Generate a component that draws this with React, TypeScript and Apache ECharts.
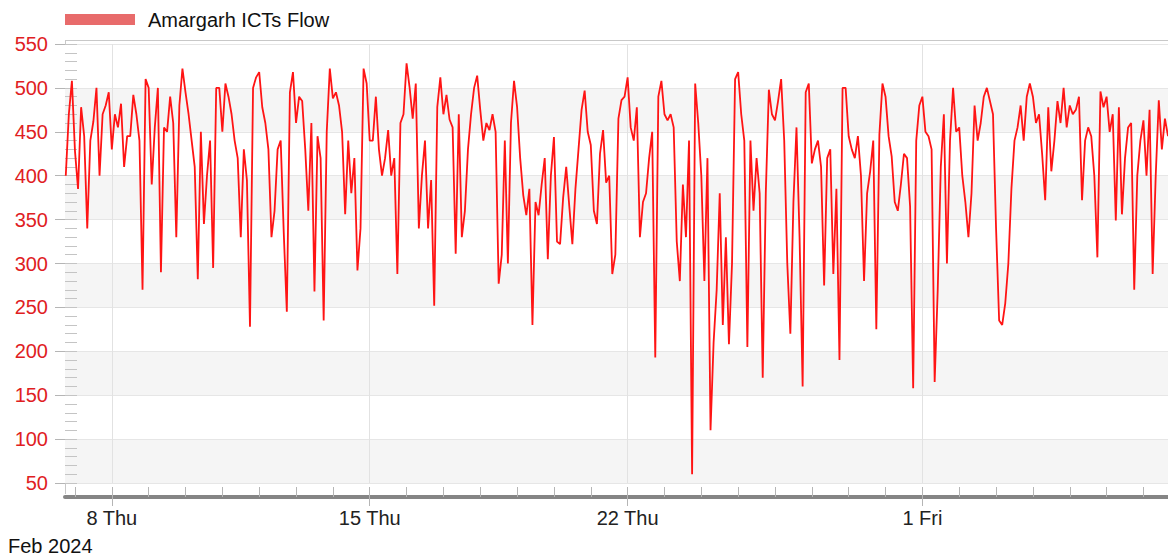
import React, { useEffect, useRef } from "react";
import * as echarts from "echarts";

const seriesName = "Amargarh ICTs Flow";
const periodLabel = "Feb 2024";

// Flow readings, every 2 hours from 6 Feb 2024 18:00
const flowPart1 = [
  400, 470, 508, 428, 385, 478, 445, 340, 440, 462,
  500, 400, 470, 480, 495, 430, 470, 455, 482, 410,
  445, 445, 492, 470, 440, 270, 510, 500, 390, 455,
  500, 290, 455, 450, 490, 460, 330, 480, 522, 495,
  470, 440, 410, 282, 450, 345, 400, 440, 295, 500,
  500, 450, 505, 490, 470, 440, 420, 330, 430, 395,
  228,
];
const flowPart2 = [
  500, 512, 518, 478, 460, 430, 330, 360, 430, 440,
  335, 245, 495, 518, 460, 490, 485, 430, 360, 460,
  268, 445, 420, 235, 450, 522, 488, 495, 480, 450,
  356, 440, 380, 420, 292, 340, 522, 505, 440, 440,
  490, 430, 400, 420, 452, 400, 420, 288, 460, 470,
  528, 500, 465, 505, 340, 400, 440, 340, 395, 252,
];
const flowPart3 = [
  478, 512, 470, 492, 464, 455, 311, 470, 330, 360,
  430, 470, 500, 514, 475, 440, 460, 452, 470, 450,
  277, 310, 440, 300, 460, 508, 478, 420, 378, 355,
  385, 230, 370, 355, 390, 420, 305, 400, 444, 325,
  322, 375, 410, 365, 322, 385, 430, 475, 497, 450,
  435, 360, 345, 425, 452, 392, 400, 288, 310, 465,
];
const flowPart4 = [
  486, 490, 512, 455, 440, 478, 330, 370, 380, 420,
  450, 193, 490, 508, 470, 463, 470, 455, 325, 280,
  390, 330, 440, 60, 505, 460, 400, 280, 420, 110,
  210, 270, 380, 230, 330, 208, 300, 510, 518, 470,
  440, 205, 440, 360, 420, 380, 170, 380, 498, 470,
  463, 485, 510, 440, 300, 220, 370, 455, 330, 160,
];
const flowPart5 = [
  495, 505, 414, 430, 440, 410, 275, 420, 430, 288,
  385, 190, 500, 500, 445, 430, 420, 445, 400, 280,
  380, 405, 440, 225, 447, 505, 490, 445, 422, 370,
  360, 390, 425, 420, 365, 158, 440, 480, 490, 450,
  445, 430, 165, 270, 410, 470, 300, 440, 500, 450,
  455, 400, 370, 330, 380, 480, 440, 460, 490, 500,
  485,
];
const flowPart6 = [
  470, 340, 235, 230, 255, 300, 385, 440, 455, 480,
  440, 490, 505, 490, 460, 470, 425, 372, 478, 405,
  440, 485, 460, 500, 455, 480, 470, 475, 490, 372,
  440, 455, 445, 400, 307, 496, 478, 490, 450, 470,
  349, 478, 356, 420, 455, 460, 270, 400, 440, 463,
  400, 475, 288, 400, 486, 430, 465, 445,
];

const weekLabelDates = ["2024-02-08", "2024-02-15", "2024-02-22", "2024-03-01"];
const dayNames = ["Sun", "Mon", "Tue", "Wed", "Thu", "Fri", "Sat"];

const FONT = 'Arial, "Liberation Sans", sans-serif';

function localDay(s: string): number {
  const [y, m, d] = s.split("-").map(Number);
  return new Date(y, m - 1, d).getTime();
}

export default function App() {
  const ref = useRef<HTMLDivElement>(null);

  useEffect(() => {
    if (!ref.current) return;
    const chart = echarts.init(ref.current, undefined, { renderer: "svg" });

    const values = [
      ...flowPart1,
      ...flowPart2,
      ...flowPart3,
      ...flowPart4,
      ...flowPart5,
      ...flowPart6,
    ];
    const start = new Date(2024, 1, 6, 18, 0).getTime();
    const stepMs = 2 * 3600 * 1000;
    const data = values.map((v, i) => [start + i * stepMs, v]);

    const axisMin = new Date(2024, 1, 6, 17, 30).getTime();
    const axisMax = new Date(2024, 2, 7, 16, 0).getTime();

    const dayTicks: number[] = [];
    for (let d = 0; d <= 29; d++) dayTicks.push(new Date(2024, 1, 7 + d).getTime());
    const weekTicks = weekLabelDates.map(localDay);

    chart.setOption({
      animation: false,
      textStyle: { fontFamily: FONT },
      grid: { left: 65, right: 0, top: 44, bottom: 73 },
      xAxis: [
        {
          type: "value",
          min: axisMin,
          max: axisMax,
          position: "bottom",
          offset: 14,
          axisLine: { show: true, lineStyle: { color: "#858585", width: 4 } },
          axisTick: {
            show: true,
            inside: true,
            length: 10,
            customValues: dayTicks,
            lineStyle: { color: "#b5b5b5" },
          },
          axisLabel: { show: false },
          splitLine: { show: false },
        },
        {
          type: "value",
          min: axisMin,
          max: axisMax,
          position: "bottom",
          offset: 14,
          axisLine: { show: false },
          axisTick: {
            show: true,
            inside: false,
            length: 9,
            customValues: weekTicks,
            lineStyle: { color: "#b5b5b5" },
          },
          axisLabel: {
            customValues: weekTicks,
            formatter: (v: number) => {
              const d = new Date(v);
              return `${d.getDate()} ${dayNames[d.getDay()]}`;
            },
            fontSize: 20,
            color: "#222",
            margin: 11,
            fontFamily: FONT,
          },
          splitLine: { show: true, lineStyle: { color: "#e2e2e2" } },
        },
      ],
      yAxis: [
        {
          type: "value",
          min: 50,
          max: 550,
          interval: 50,
          axisLine: { show: false },
          axisTick: { show: true, length: 10, lineStyle: { color: "#b5b5b5" } },
          axisLabel: { color: "#e0201f", fontSize: 20, margin: 17, fontFamily: FONT },
          splitLine: { show: true, lineStyle: { color: "#e6e6e6" } },
          splitArea: { show: true, areaStyle: { color: ["#f5f5f5", "#ffffff"] } },
        },
        {
          type: "value",
          min: 50,
          max: 550,
          interval: 10,
          position: "left",
          axisLine: { show: false },
          axisTick: { show: true, inside: true, length: 12, lineStyle: { color: "#c4c4c4" } },
          axisLabel: { show: false },
          splitLine: { show: false },
        },
      ],
      series: [
        {
          type: "line",
          name: seriesName,
          data,
          xAxisIndex: 0,
          yAxisIndex: 0,
          showSymbol: false,
          lineStyle: { color: "#ff1414", width: 1.8 },
          itemStyle: { color: "#ff1414" },
        },
      ],
      graphic: [
        {
          type: "line",
          shape: { x1: 65, y1: 40.5, x2: 1168, y2: 40.5 },
          style: { stroke: "#c8c8c8", lineWidth: 1 },
          silent: true,
        },
        {
          type: "line",
          shape: { x1: 65.5, y1: 40, x2: 65.5, y2: 494 },
          style: { stroke: "#c8c8c8", lineWidth: 1 },
          silent: true,
        },
        {
          type: "rect",
          shape: { x: 65, y: 14, width: 70, height: 11 },
          style: { fill: "#e86b6b" },
          silent: true,
        },
        {
          type: "text",
          x: 148,
          y: 20,
          style: {
            text: seriesName,
            fontSize: 20,
            fontFamily: FONT,
            fill: "#111",
            verticalAlign: "middle",
          },
          silent: true,
        },
        {
          type: "text",
          x: 8,
          y: 546,
          style: {
            text: periodLabel,
            fontSize: 20,
            fontFamily: FONT,
            fill: "#111",
            verticalAlign: "middle",
          },
          silent: true,
        },
      ],
    });

    return () => chart.dispose();
  }, []);

  return (
    <div
      ref={ref}
      style={{ position: "fixed", left: 0, top: 0, width: 1168, height: 556, background: "#fff" }}
    />
  );
}
